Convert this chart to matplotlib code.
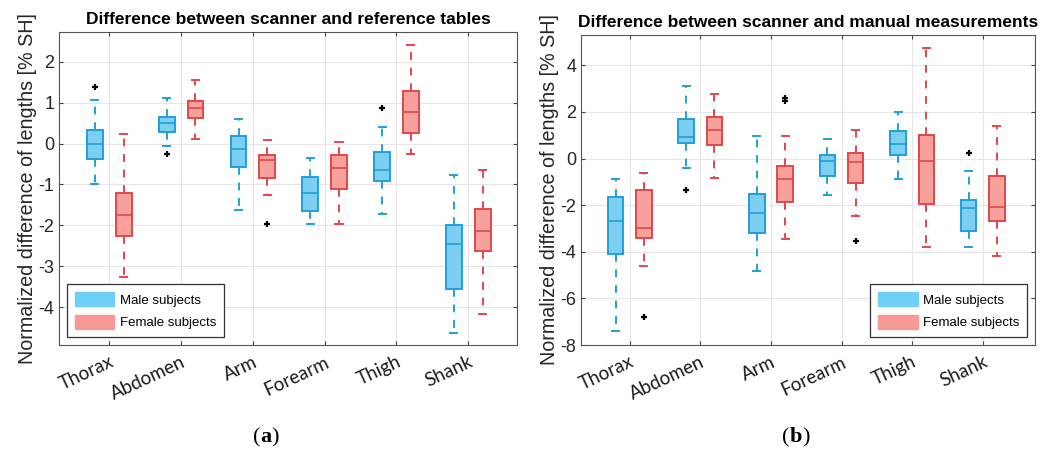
import matplotlib
matplotlib.use("Agg")
import matplotlib.pyplot as plt
from matplotlib.patches import Patch
from matplotlib.offsetbox import TextArea, HPacker, AnnotationBbox

categories = ["Thorax", "Abdomen", "Arm", "Forearm", "Thigh", "Shank"]

# Panel (a): scanner vs reference tables  [whislo, q1, med, q3, whishi]
a_male_stats = [
    [-0.98, -0.39, -0.02, 0.32, 1.07],
    [-0.07, 0.29, 0.51, 0.66, 1.12],
    [-1.63, -0.58, -0.13, 0.19, 0.60],
    [-1.98, -1.64, -1.21, -0.82, -0.35],
    [-1.72, -0.91, -0.64, -0.21, 0.40],
    [-4.63, -3.57, -2.47, -2.00, -0.77],
]
a_male_fliers = [[1.39], [-0.25], [], [], [0.87], []]
a_female_stats = [
    [-3.27, -2.27, -1.76, -1.22, 0.24],
    [0.10, 0.63, 0.87, 1.05, 1.56],
    [-1.27, -0.85, -0.40, -0.29, 0.09],
    [-1.98, -1.10, -0.60, -0.27, 0.03],
    [-0.25, 0.25, 0.76, 1.28, 2.40],
    [-4.17, -2.63, -2.15, -1.59, -0.64],
]
a_female_fliers = [[], [], [-1.97], [], [], []]

# Panel (b): scanner vs manual measurements
b_male_stats = [
    [-7.42, -4.10, -2.70, -1.63, -0.86],
    [-0.40, 0.68, 0.93, 1.70, 3.13],
    [-4.82, -3.19, -2.33, -1.52, 0.95],
    [-1.58, -0.73, -0.12, 0.13, 0.82],
    [-0.88, 0.17, 0.63, 1.20, 2.00],
    [-3.80, -3.10, -2.12, -1.80, -0.52],
]
b_male_fliers = [[], [-1.36], [], [], [], [0.24]]
b_female_stats = [
    [-4.60, -3.40, -2.97, -1.37, -0.64],
    [-0.83, 0.57, 1.24, 1.78, 2.75],
    [-3.45, -1.86, -0.90, -0.33, 0.95],
    [-2.48, -1.04, -0.15, 0.25, 1.24],
    [-3.80, -1.95, -0.12, 0.99, 4.76],
    [-4.20, -2.66, -2.06, -0.77, 1.38],
]
b_female_fliers = [[-6.80], [], [2.58, 2.46], [-3.53], [], []]

titles = ["Difference between scanner and reference tables",
          "Difference between scanner and manual measurements"]
ylabel = "Normalized difference of lengths [% SH]"
legend_labels = ["Male subjects", "Female subjects"]
panel_labels = ["a", "b"]

male_edge = "#1f9fdc"
male_face = "#7dcff2"
female_edge = "#e2474b"
female_face = "#f6a19c"
leg_male = "#6fd0f7"
leg_female = "#f79a96"


def to_bxp(stats, fliers):
    out = []
    for s, f in zip(stats, fliers):
        out.append(dict(whislo=s[0], q1=s[1], med=s[2], q3=s[3], whishi=s[4], fliers=f))
    return out


fig = plt.figure(figsize=(10.62, 4.5), dpi=100)
axA = fig.add_axes([0.0556, 0.2333, 0.4313, 0.6956])
axB = fig.add_axes([0.5471, 0.2333, 0.4275, 0.6890])

panels = [
    (axA, a_male_stats, a_male_fliers, a_female_stats, a_female_fliers,
     (-4.93, 2.73), [-4, -3, -2, -1, 0, 1, 2], (0.30, 6.68), "lower left"),
    (axB, b_male_stats, b_male_fliers, b_female_stats, b_female_fliers,
     (-8, 5.3), [-8, -6, -4, -2, 0, 2, 4], (0.31, 6.74), "lower right"),
]

pos = list(range(1, len(categories) + 1))
off = 0.2
width = 0.22

for i, (ax, ms, mf, fs, ff, ylim, yt, xlim, legloc) in enumerate(panels):
    ax.set_axisbelow(True)
    ax.grid(True, color="#e6e6e6", linewidth=0.8)
    for stats, fl, ec, fc, sgn in [(ms, mf, male_edge, male_face, -1),
                                    (fs, ff, female_edge, female_face, 1)]:
        ax.bxp(to_bxp(stats, fl), positions=[p + sgn * off for p in pos],
               widths=width, capwidths=width * 0.45, patch_artist=True,
               showfliers=True, manage_ticks=False,
               boxprops=dict(facecolor=fc, edgecolor=ec, linewidth=1.4),
               medianprops=dict(color=ec, linewidth=1.2),
               whiskerprops=dict(color=ec, linewidth=1.4, linestyle=(0, (4, 4))),
               capprops=dict(color=ec, linewidth=1.4),
               flierprops=dict(marker="+", markeredgecolor="black",
                               markersize=5, markeredgewidth=1.6, linestyle="none"))
    ax.set_xlim(*xlim)
    ax.set_ylim(*ylim)
    ax.set_yticks(yt)
    ax.set_yticklabels([str(v) for v in yt], fontsize=13, color="#262626",
                       family="Liberation Sans")
    ax.set_xticks(pos)
    ax.set_xticklabels(categories, rotation=25, ha="right", rotation_mode="anchor",
                       fontsize=13.5, family="Lato", color="#1a1a1a")
    ax.tick_params(axis="both", direction="in", length=3, color="#444444",
                   top=True, right=True)
    ax.tick_params(axis="x", pad=6)
    for sp in ax.spines.values():
        sp.set_color("#555555")
        sp.set_linewidth(0.8)
    ax.set_title(titles[i], fontsize=12.5, fontweight="bold", family="Liberation Sans",
                 pad=6)
    ax.set_ylabel(ylabel, fontsize=14.2, family="Liberation Sans", color="#262626",
                  labelpad=1)
    handles = [Patch(facecolor=leg_male, edgecolor=leg_male),
               Patch(facecolor=leg_female, edgecolor=leg_female)]
    leg = ax.legend(handles, legend_labels, loc=legloc,
                    prop=dict(family="Liberation Sans", size=9.5),
                    handlelength=3.0, handleheight=1.3, handletextpad=0.4,
                    fancybox=False, edgecolor="#333333", framealpha=1,
                    borderpad=0.6, labelspacing=0.6, borderaxespad=0.6)
    leg.get_frame().set_linewidth(0.9)

for lab, xc in zip(panel_labels, [266, 796]):
    props = dict(family="Liberation Serif", size=16, color="black")
    parts = [TextArea("(", textprops=props),
             TextArea(lab, textprops=dict(props, weight="bold")),
             TextArea(")", textprops=props)]
    box = HPacker(children=parts, align="baseline", pad=0, sep=0)
    ab = AnnotationBbox(box, (xc / 1062, 1 - 437 / 450), xycoords="figure fraction",
                        frameon=False, pad=0, box_alignment=(0.5, 0.5))
    fig.add_artist(ab)

fig.savefig("out.png", dpi=100)
